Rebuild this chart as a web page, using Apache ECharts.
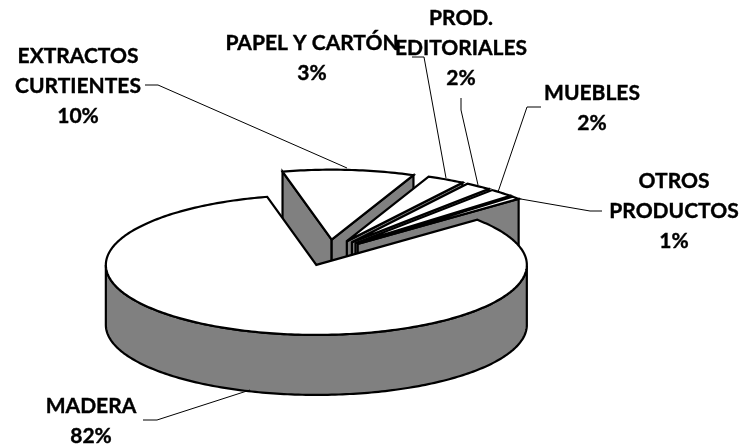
<!DOCTYPE html>
<html>
<head>
<meta charset="utf-8">
<style>
  html, body { margin: 0; padding: 0; background: #fff; }
  #main { width: 746px; height: 448px; }
</style>
<script src="https://cdn.jsdelivr.net/npm/echarts@6/dist/echarts.min.js"></script>
</head>
<body>
<div id="main"></div>
<script>
// paint order, back to front, clockwise from the top
var categories = ["EXTRACTOS\nCURTIENTES", "PAPEL Y CARTÓN", "PROD.\nEDITORIALES", "MUEBLES", "OTROS\nPRODUCTOS", "MADERA"];
var percents = [10.1, 2.9, 2.0, 1.9, 0.7, 82.4];

// pie geometry (pixels)
var centerX = 328.5, centerY = 252.6;
var radiusX = 210.5, radiusY = 70;
var depth = 60;
var explode = 0.185;
var startAngle = 103.5;

// label centre and leader line for each slice, same order as categories
var labelPos = [[78, 86], [312, 58], [461, 48], [592, 108], [674, 211], [91, 421]];
var leaders = [
  [[145, 85], [158, 85], [347, 168]],
  [[412, 57], [424, 57], [446, 178]],
  [[461, 98], [461, 110], [478, 185]],
  [[541, 107], [527, 107], [498, 192]],
  [[602, 211], [590, 211], [515, 198]],
  [[143, 420], [157, 420], [250, 390]]
];

var total = percents.reduce(function (a, b) { return a + b; }, 0);

function rad (deg) {
  return deg * Math.PI / 180;
}

// a: high angle edge, b: low angle edge, going clockwise from a to b
function sliceAngles (index) {
  var before = 0;
  for (var i = 0; i < index; i++) before += percents[i];
  var a = startAngle - before / total * 360;
  var b = a - percents[index] / total * 360;
  return [a, b];
}

function renderSlice (params, api) {
  var angles = sliceAngles(params.dataIndex);
  var a = angles[0], b = angles[1];
  var mid = (a + b) / 2;
  var cx = centerX + explode * radiusX * Math.cos(rad(mid));
  var cy = centerY - explode * radiusY * Math.sin(rad(mid));

  function pt (t, drop) {
    return [cx + radiusX * Math.cos(rad(t)), cy - radiusY * Math.sin(rad(t)) + (drop || 0)];
  }

  var stroke = { fill: "#808080", stroke: "#000", lineWidth: 2.2, lineJoin: "miter" };
  var children = [];

  // side walls of the cut edges, only the ones facing the viewer
  if (Math.sin(rad(a + 90)) < 0) {
    children.push({ type: "polygon", shape: { points: [[cx, cy], pt(a), pt(a, depth), [cx, cy + depth]] }, style: stroke });
  }
  if (Math.sin(rad(b - 90)) < 0) {
    children.push({ type: "polygon", shape: { points: [[cx, cy], pt(b), pt(b, depth), [cx, cy + depth]] }, style: stroke });
  }

  // outer wall, front half of the ellipse
  var front = [];
  for (var t = a; t >= b; t -= 1) {
    if (Math.sin(rad(t)) <= 0) front.push(t);
  }
  if (front.length > 1) {
    var wall = front.map(function (v) { return pt(v); });
    front.slice().reverse().forEach(function (v) { wall.push(pt(v, depth)); });
    children.push({ type: "polygon", shape: { points: wall }, style: stroke });
  }

  // top face
  var top = [[cx, cy]];
  for (var s = a; s > b; s -= 1) top.push(pt(s));
  top.push(pt(b));
  children.push({
    type: "polygon",
    shape: { points: top },
    style: { fill: "#fff", stroke: "#000", lineWidth: 2.2, lineJoin: "miter" }
  });

  return { type: "group", children: children };
}

var chart = echarts.init(document.getElementById("main"), null, { renderer: "canvas" });

var labelFont = "bold 21px Lato, sans-serif";
var graphics = [];
leaders.forEach(function (line) {
  graphics.push({
    type: "polyline",
    shape: { points: line },
    style: { fill: null, stroke: "#000", lineWidth: 1 },
    z: 5
  });
});
categories.forEach(function (name, i) {
  graphics.push({
    type: "text",
    x: labelPos[i][0],
    y: labelPos[i][1],
    z: 6,
    style: {
      text: name + "\n" + Math.round(percents[i]) + "%",
      font: labelFont,
      fill: "#000",
      stroke: "#000",
      lineWidth: 0.4,
      align: "center",
      verticalAlign: "middle",
      lineHeight: 30
    }
  });
});

chart.setOption({
  animation: false,
  series: [{
    type: "custom",
    coordinateSystem: "none",
    silent: true,
    data: percents,
    renderItem: renderSlice
  }],
  graphic: graphics
});
</script>
</body>
</html>
